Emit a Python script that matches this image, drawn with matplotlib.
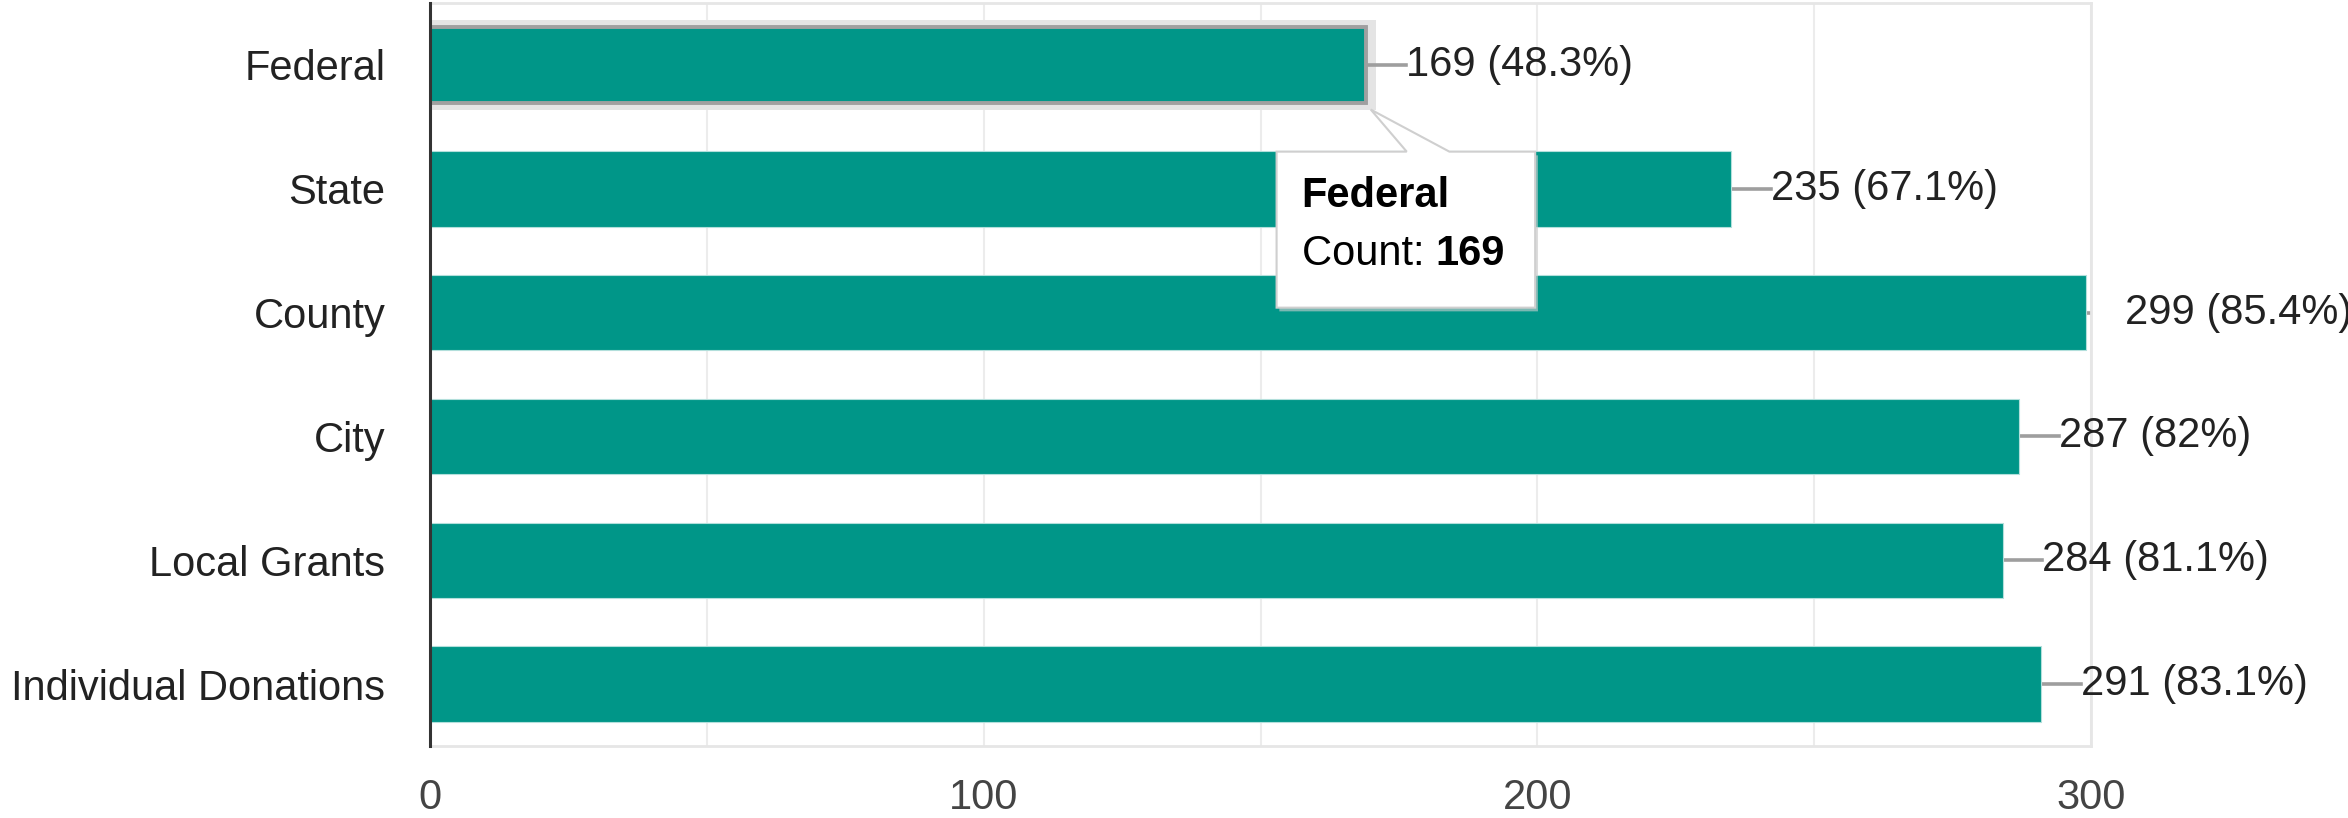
import numpy as np
import matplotlib.pyplot as plt
from matplotlib.patches import Polygon, Rectangle

plt.rcParams['font.family'] = ['Liberation Sans', 'DejaVu Sans']

# data
categories = ['Federal', 'State', 'County', 'City', 'Local Grants', 'Individual Donations']
counts = [169, 235, 299, 287, 284, 291]
percents = [48.3, 67.1, 85.4, 82, 81.1, 83.1]
x_ticks = [0, 100, 200, 300]

bar_color = '#009688'
fs = 30

fig = plt.figure(figsize=(23.48, 8.18), dpi=100)
ax = fig.add_axes([0.1831, 0.088, 0.7075, 0.9083])

y = np.arange(len(categories))
bars = ax.barh(y, counts, height=0.61, color=bar_color, edgecolor='#b2dfdb', linewidth=0.8, zorder=3)

# hover highlight on the first bar
hl = bars[0]
hl.set_edgecolor('#a0a0a0')
hl.set_linewidth(2.8)
ax.add_patch(Rectangle((0, -0.61 / 2 - 0.06), counts[0] + 1.8, 0.73,
                       facecolor='#e4e4e4', edgecolor='none', zorder=2))

ax.set_xlim(0, 300)
ax.set_ylim(len(categories) - 0.5, -0.5)
ax.set_xticks(np.arange(0, 301, 50))
ax.set_xticklabels(['' if t not in x_ticks else str(t) for t in range(0, 301, 50)])
ax.set_yticks(y)
ax.set_yticklabels(categories)
ax.tick_params(axis='y', length=0, pad=32, labelsize=fs, labelcolor='#222222')
ax.tick_params(axis='x', length=0, pad=23, labelsize=fs, labelcolor='#444444')
ax.grid(axis='x', color='#ececec', linewidth=1.5, zorder=0)

for side in ['top', 'right', 'bottom']:
    ax.spines[side].set_color('#e6e6e6')
    ax.spines[side].set_linewidth(2)
ax.spines['left'].set_color('#333333')
ax.spines['left'].set_linewidth(2.2)
ax.spines['left'].set_zorder(5)

# value labels with connector lines
gap = 7.2
for i, (v, p) in enumerate(zip(counts, percents)):
    ax.plot([v, v + gap], [i, i], color='#9e9e9e', linewidth=2.6, zorder=2, clip_on=True)
    ax.text(v + gap, i, f'{v} ({p:g}%)', ha='left', va='center', fontsize=fs,
            color='#222222', clip_on=False, zorder=4)

# tooltip for the hovered bar
v0 = counts[0]
left, right, top, bottom = v0 - 16.1, v0 + 30.6, 0.70, 1.96
tip = (v0 + 0.9, 0.36)
pts = [(left, top), (v0 + 7.4, top), tip, (v0 + 15.1, top), (right, top),
       (right, bottom), (left, bottom)]
shadow = Polygon([(px + 0.5, py + 0.03) for px, py in pts], closed=True,
                 facecolor='#d0d0d0', edgecolor='none', alpha=0.6, zorder=6, clip_on=False)
ax.add_patch(shadow)
ax.add_patch(Polygon(pts, closed=True, facecolor='white', edgecolor='#cfcfcf',
                     linewidth=1.5, zorder=7, clip_on=False))
ax.text(left + 4.5, 1.06, categories[0], fontsize=fs, fontweight='bold',
        color='black', ha='left', va='center', zorder=8)
t = ax.text(left + 4.5, 1.53, 'Count: ', fontsize=fs, color='black',
            ha='left', va='center', zorder=8)
ax.annotate(str(v0), xy=(1, 0), xycoords=t, fontsize=fs, fontweight='bold',
            color='black', ha='left', va='bottom', zorder=8)

fig.savefig('out.png', dpi=100)
